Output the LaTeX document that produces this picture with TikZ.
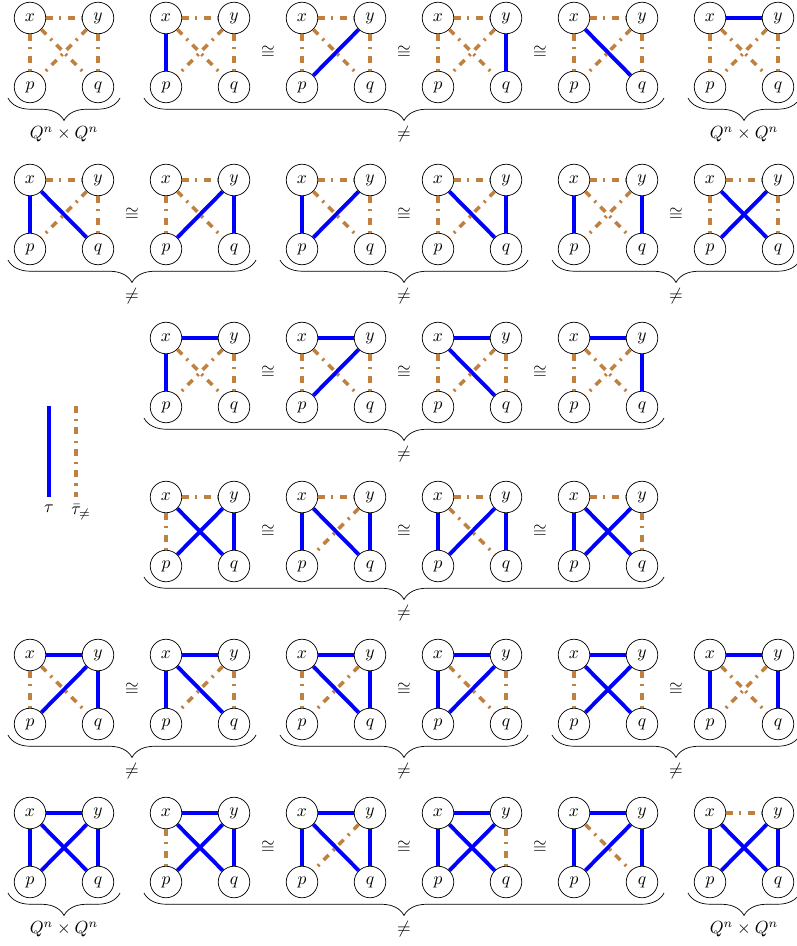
\documentclass[tikz,border=0pt]{standalone}
\usetikzlibrary{calc,decorations.pathreplacing}

\tikzset{
    vtx/.style={draw, circle, minimum size=0.63cm, inner sep=0pt},
    tau/.style={blue, line width=2.2pt},
    ntau/.style={brown, line width=2pt, dash pattern=on 4pt off 3.5pt on 1.2pt off 3.5pt},
    grp/.style={decorate, decoration={brace, mirror, amplitude=0.45cm}},
}

% one small graph: x y on top, p q below
\newcommand{\qgraph}[8]{%
    \node[vtx] (#1-x) at (#2,#3) {$x$};
    \node[vtx] (#1-y) at (#2+1.36,#3) {$y$};
    \node[vtx] (#1-p) at (#2,#3-1.38) {$p$};
    \node[vtx] (#1-q) at (#2+1.36,#3-1.38) {$q$};
    \draw[#4] (#1-x) -- (#1-y);
    \draw[#5] (#1-x) -- (#1-p);
    \draw[#6] (#1-y) -- (#1-q);
    \draw[#7] (#1-x) -- (#1-q);
    \draw[#8] (#1-y) -- (#1-p);
}

\begin{document}
\begin{tikzpicture}
\useasboundingbox (0,0) rectangle (15.92,-18.92);

% ===== Row 1 =====
\foreach \gx/\sxy/\sxp/\syq/\sxq/\syp [count=\i] in {
    0.6/ntau/ntau/ntau/ntau/ntau,
    3.32/ntau/tau/ntau/ntau/ntau,
    6.04/ntau/ntau/ntau/ntau/tau,
    8.76/ntau/ntau/tau/ntau/ntau,
    11.48/ntau/ntau/ntau/tau/ntau,
    14.2/tau/ntau/ntau/ntau/ntau} {
    \qgraph{a\i}{\gx}{-0.36}{\sxy}{\sxp}{\syq}{\sxq}{\syp}
}

% ===== Row 2 =====
\foreach \gx/\sxy/\sxp/\syq/\sxq/\syp [count=\i] in {
    0.6/ntau/tau/ntau/tau/ntau,
    3.32/ntau/ntau/tau/ntau/tau,
    6.04/ntau/tau/ntau/ntau/tau,
    8.76/ntau/ntau/tau/tau/ntau,
    11.48/ntau/tau/tau/ntau/ntau,
    14.2/ntau/ntau/ntau/tau/tau} {
    \qgraph{b\i}{\gx}{-3.6}{\sxy}{\sxp}{\syq}{\sxq}{\syp}
}

% ===== Row 3 =====
\foreach \gx/\sxy/\sxp/\syq/\sxq/\syp [count=\i] in {
    3.32/tau/tau/ntau/ntau/ntau,
    6.04/tau/ntau/ntau/ntau/tau,
    8.76/tau/ntau/ntau/tau/ntau,
    11.48/tau/ntau/tau/ntau/ntau} {
    \qgraph{c\i}{\gx}{-6.76}{\sxy}{\sxp}{\syq}{\sxq}{\syp}
}

% ===== Row 4 =====
\foreach \gx/\sxy/\sxp/\syq/\sxq/\syp [count=\i] in {
    3.32/ntau/ntau/tau/tau/tau,
    6.04/ntau/tau/tau/tau/ntau,
    8.76/ntau/tau/tau/ntau/tau,
    11.48/ntau/tau/ntau/tau/tau} {
    \qgraph{d\i}{\gx}{-9.94}{\sxy}{\sxp}{\syq}{\sxq}{\syp}
}

% ===== Row 5 =====
\foreach \gx/\sxy/\sxp/\syq/\sxq/\syp [count=\i] in {
    0.6/tau/ntau/tau/ntau/tau,
    3.32/tau/tau/ntau/tau/ntau,
    6.04/tau/ntau/tau/tau/ntau,
    8.76/tau/tau/ntau/ntau/tau,
    11.48/tau/ntau/ntau/tau/tau,
    14.2/tau/tau/tau/ntau/ntau} {
    \qgraph{e\i}{\gx}{-13.1}{\sxy}{\sxp}{\syq}{\sxq}{\syp}
}

% ===== Row 6 =====
\foreach \gx/\sxy/\sxp/\syq/\sxq/\syp [count=\i] in {
    0.6/tau/tau/tau/tau/tau,
    3.32/tau/ntau/tau/tau/tau,
    6.04/tau/tau/tau/tau/ntau,
    8.76/tau/tau/ntau/tau/tau,
    11.48/tau/tau/tau/ntau/tau,
    14.2/ntau/tau/tau/tau/tau} {
    \qgraph{f\i}{\gx}{-16.26}{\sxy}{\sxp}{\syq}{\sxq}{\syp}
}

% ===== Isomorphisms =====
\foreach \l/\r in {a2/a3,a3/a4,a4/a5, b1/b2,b3/b4,b5/b6,
    c1/c2,c2/c3,c3/c4, d1/d2,d2/d3,d3/d4,
    e1/e2,e3/e4,e5/e6, f2/f3,f3/f4,f4/f5} {
    \node (iso\l) at ($(\l-y)!0.5!(\r-p)$) {$\cong$};
}

% ===== Braces =====
\foreach \l/\r/\t in {a1/a1/{Q^n\times Q^n}, a2/a5/{\neq}, a6/a6/{Q^n\times Q^n},
    b1/b2/{\neq}, b3/b4/{\neq}, b5/b6/{\neq},
    c1/c4/{\neq}, d1/d4/{\neq},
    e1/e2/{\neq}, e3/e4/{\neq}, e5/e6/{\neq},
    f1/f1/{Q^n\times Q^n}, f2/f5/{\neq}, f6/f6/{Q^n\times Q^n}} {
    \draw[grp] ([shift={(-0.44,-0.22)}]\l-p.center)
        -- node[below=0.45cm] (lbl\l) {$\t$} ([shift={(0.44,-0.22)}]\r-q.center);
}

% ===== Legend =====
\coordinate (t1) at (0.98,-8.12);
\coordinate (t2) at (0.98,-9.94);
\coordinate (n1) at (1.52,-8.12);
\coordinate (n2) at (1.52,-9.94);
\draw[tau] (t1) -- (t2) node[below, text=black] (ltau) {$\tau$};
\draw[ntau] (n1) -- (n2) node[below, xshift=0.1cm, text=black] (lntau) {$\bar{\tau}_{\neq}$};

\end{tikzpicture}
\end{document}
